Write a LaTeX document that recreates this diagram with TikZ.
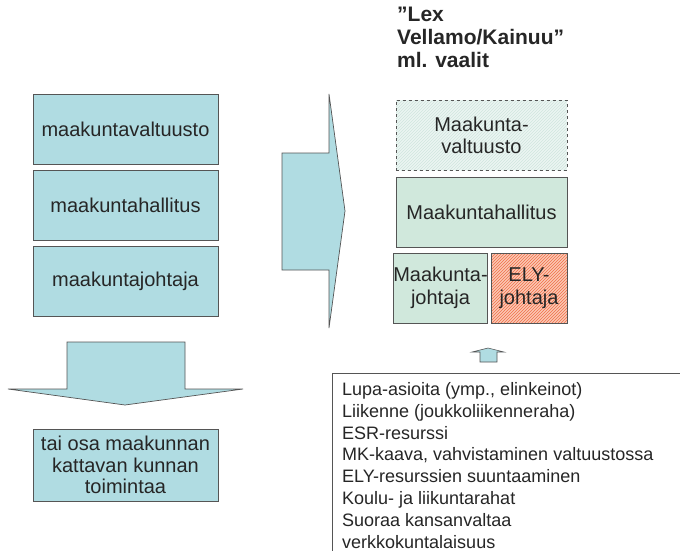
\documentclass[tikz,border=0pt]{standalone}
\usepackage{fontspec}
\setmainfont{Liberation Sans}
\usetikzlibrary{patterns}
\definecolor{blueF}{HTML}{B0DCE2}
\definecolor{greenF}{HTML}{D0E8DC}
\definecolor{edgeC}{HTML}{555555}
\definecolor{txtC}{HTML}{262626}
\definecolor{orangeF}{HTML}{FBC8B4}
\definecolor{orangeL}{HTML}{F07048}
\definecolor{hatchG}{HTML}{CFE6DE}
\begin{document}
\begin{tikzpicture}[x=1pt,y=-1pt,
  txt/.style={font=\fontsize{20}{22}\selectfont, text=txtC, align=center},
  bluebox/.style={txt, draw=edgeC, line width=0.8pt, fill=blueF, minimum width=185pt, minimum height=70pt, inner sep=0pt},
  greenbox/.style={txt, draw=edgeC, line width=1pt, fill=greenF, inner sep=0pt},
  blockarrow/.style={draw=edgeC, line width=0.7pt, fill=blueF, line join=miter}
]
\useasboundingbox (0,0) rectangle (680,551);
\fill[white] (0,0) rectangle (680,551);

% title
\node[anchor=north west, inner sep=0pt, font=\fontsize{21}{23}\selectfont\bfseries, text=txtC, align=left] (title) at (397,7) {”Lex\\Vellamo/Kainuu”\\ml. vaalit};

% left column
\node[bluebox] (lv) at (125.5,129) {maakuntavaltuusto};
\node[bluebox] (lh) at (125.5,205) {maakuntahallitus};
\node[bluebox] (lj) at (125.5,281) {maakuntajohtaja};

% down arrow
\draw[blockarrow] (67,342) -- (185,342) -- (185,389) -- (243,389) -- (125,405) -- (8,389) -- (67,389) -- cycle;

% bottom box
\node[bluebox, minimum height=72pt, font=\fontsize{20}{21.5}\selectfont] (lb) at (125.5,465) {tai osa maakunnan\\kattavan kunnan\hspace*{0.28em}\\toimintaa};

% right arrow
\draw[blockarrow] (282,153) -- (329,153) -- (329,94) -- (345,211) -- (329,328) -- (329,270) -- (282,270) -- cycle;

% right column
\fill[hatchG!40] (396,100) rectangle (567,170);
\fill[pattern=north east lines, pattern color=hatchG] (396,100) rectangle (567,170);
\node[txt, draw=edgeC, dashed, line width=0.8pt, minimum width=171pt, minimum height=70pt, inner sep=0pt] (rv) at (481.5,135) {Maakunta-\\valtuusto};
\node[greenbox, minimum width=171pt, minimum height=70pt] (rh) at (481.5,212) {Maakuntahallitus};
\node[greenbox, minimum width=89pt, minimum height=70pt, font=\fontsize{20}{23.5}\selectfont] (rj) at (440.5,288) {Maakunta-\\johtaja};
\fill[orangeF] (491,253) rectangle (567,323);
\fill[pattern=north east lines, pattern color=orangeL] (491,253) rectangle (567,323);
\node[txt, draw=edgeC, line width=1pt, minimum width=76pt, minimum height=70pt, inner sep=0pt, font=\fontsize{20}{23.5}\selectfont] (ely) at (529,288) {ELY-\\johtaja};

% small up arrow
\draw[blockarrow, line width=0.6pt] (480,362) -- (497,362) -- (497,352) -- (504,352) -- (488,348) -- (472,352) -- (480,352) -- cycle;

% list box
\draw[edgeC, line width=0.8pt] (332,560) -- (332,373) -- (690,373);
\node[anchor=north west, inner sep=0pt, font=\fontsize{18}{21.9}\selectfont, text=txtC, align=left] (list) at (342,382) {Lupa-asioita (ymp., elinkeinot)\\Liikenne (joukkoliikenneraha)\\ESR-resurssi\\MK-kaava, vahvistaminen valtuustossa\\ELY-resurssien suuntaaminen\\Koulu- ja liikuntarahat\\Suoraa kansanvaltaa\\verkkokuntalaisuus};
\end{tikzpicture}
\end{document}
